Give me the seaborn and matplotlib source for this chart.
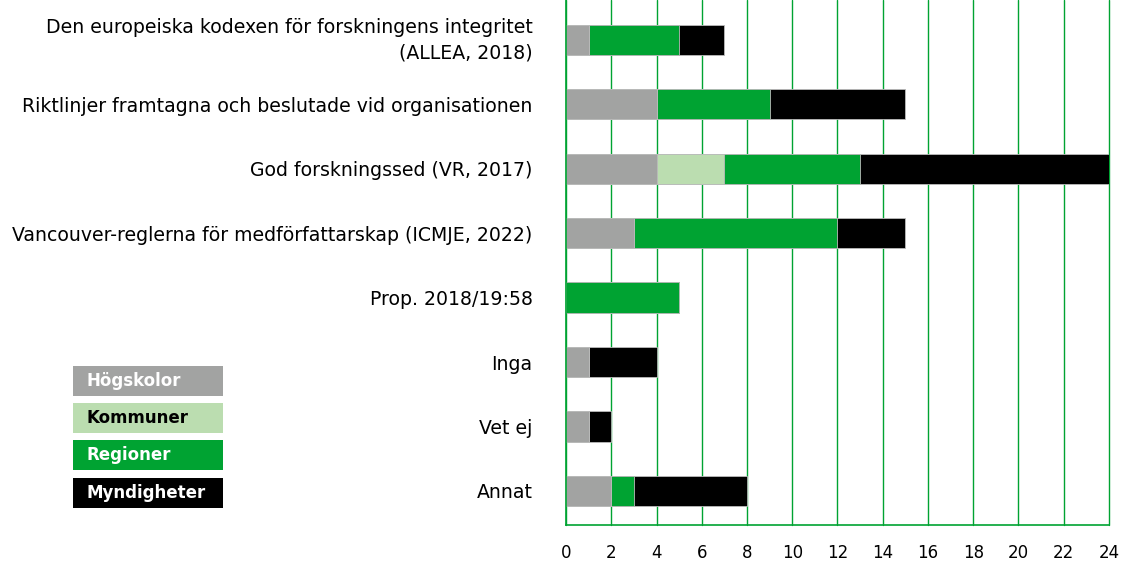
import numpy as np
import pandas as pd
import matplotlib
matplotlib.use("Agg")
import matplotlib.pyplot as plt
import seaborn as sns
from matplotlib.patches import Rectangle

# ==========================================================
# DATA
# ==========================================================

categories = [
    "Den europeiska kodexen för forskningens integritet\n(ALLEA, 2018)",
    "Riktlinjer framtagna och beslutade vid organisationen",
    "God forskningssed (VR, 2017)",
    "Vancouver-reglerna för medförfattarskap (ICMJE, 2022)",
    "Prop. 2018/19:58",
    "Inga",
    "Vet ej",
    "Annat",
]

hogskolor = [1, 4, 4, 3, 0, 1, 1, 2]
kommuner = [0, 0, 3, 0, 0, 0, 0, 0]
regioner = [4, 5, 6, 9, 5, 0, 0, 1]
myndigheter = [2, 6, 11, 3, 0, 3, 1, 5]

series_names = ["Högskolor", "Kommuner", "Regioner", "Myndigheter"]
colors = ["#A2A3A2", "#BBDDB0", "#00A332", "#000000"]
text_colors = ["white", "black", "white", "white"]

# ==========================================================
# STYLE
# ==========================================================

sns.set_theme(style="white")
plt.rcParams["font.family"] = ["DejaVu Sans"]

fig = plt.figure(figsize=(11.3, 5.62), dpi=100)
ax = fig.add_axes([0.5009, 0.0658, 0.4805, 0.9342])

df = pd.DataFrame({
    "cat": categories,
    "H": hogskolor,
    "K": kommuner,
    "R": regioner,
    "M": myndigheter,
})
df["c1"] = df["H"]
df["c2"] = df["c1"] + df["K"]
df["c3"] = df["c2"] + df["R"]
df["c4"] = df["c3"] + df["M"]

# stacked bars drawn as overlapping cumulative totals
for col, color in zip(["c4", "c3", "c2", "c1"], colors[::-1]):
    sns.barplot(
        data=df, x=col, y="cat", orient="h", color=color,
        width=0.47, edgecolor="#BBBBBB", linewidth=0.6,
        saturation=1, ax=ax, order=categories
    )

ax.set_xlim(0, 24)
ax.set_ylim(7.53, -0.62)
ax.set_xticks(np.arange(0, 25, 2))
ax.set_xlabel("")
ax.set_ylabel("")
ax.grid(axis="x", color="#00A332", linewidth=1)
ax.set_axisbelow(True)
for gl in ax.get_xgridlines():
    gl.set_clip_on(False)
ax.tick_params(axis="x", length=0, labelsize=12, colors="black", pad=14)
ax.tick_params(axis="y", length=0, labelsize=13.6, colors="black", pad=24)
for lbl in ax.get_yticklabels():
    lbl.set_horizontalalignment("right")
    lbl.set_linespacing(1.45)
    if "\n" in lbl.get_text():
        lbl.set_verticalalignment("center")

for side in ["top", "right"]:
    ax.spines[side].set_visible(False)
for side in ["left", "bottom"]:
    ax.spines[side].set_visible(True)
    ax.spines[side].set_color("#00A332")
    ax.spines[side].set_linewidth(1.2)

# ==========================================================
# LEGEND (coloured boxes with labels inside)
# ==========================================================

W, H = 1130, 562
box_tops = [366, 403, 440, 478]
for name, color, tcolor, top in zip(series_names, colors, text_colors, box_tops):
    fig.patches.append(Rectangle(
        (73 / W, 1 - (top + 30) / H), 150 / W, 30 / H,
        transform=fig.transFigure, facecolor=color, edgecolor="none"
    ))
    fig.text(86 / W, 1 - (top + 15) / H, name, color=tcolor,
             fontsize=12, fontweight="bold", va="center", ha="left")

fig.savefig("out.png", dpi=100)
